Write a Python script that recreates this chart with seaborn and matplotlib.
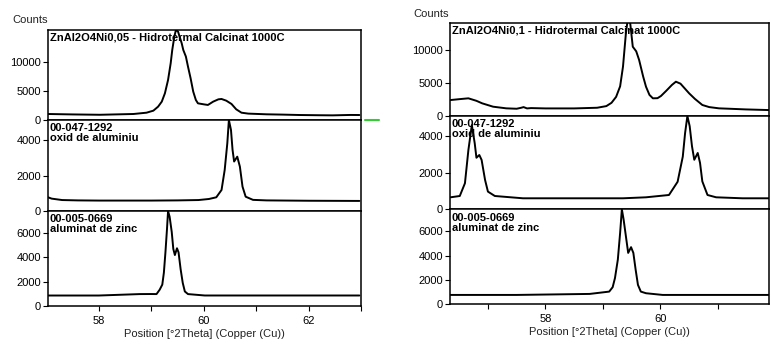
import numpy as np
import pandas as pd
import matplotlib
matplotlib.use("Agg")
import matplotlib.pyplot as plt
import seaborn as sns
from matplotlib.ticker import MultipleLocator, FixedLocator

sns.set_theme(style="ticks")
plt.rcParams['font.family'] = ['Liberation Sans', 'DejaVu Sans']

# ---------------- data ----------------
# Left panel: ZnAl2O4Ni0,05
left_top_x = [57.03, 57.5, 58.02, 58.4, 58.66, 58.91, 59.04, 59.13, 59.2, 59.26, 59.32, 59.37,
              59.4, 59.44, 59.47, 59.51, 59.54, 59.58, 59.61, 59.66, 59.7, 59.75, 59.8, 59.85,
              59.89, 60.0, 60.08, 60.18, 60.28, 60.34, 60.43, 60.53, 60.62, 60.72, 60.85,
              61.2, 61.5, 61.83, 62.2, 62.46, 62.8, 62.97]
left_top_y = [1034, 960, 900, 980, 1034, 1260, 1610, 2300, 3160, 4600, 6900, 9770,
              12070, 14370, 15500, 15230, 14370, 13220, 12070, 10920, 9200, 7180, 4890, 3450,
              2870, 2700, 2590, 3160, 3560, 3620, 3330, 2760, 1840, 1260, 1100,
              980, 930, 860, 820, 800, 870, 860]

left_mid_x = [57.03, 57.1, 57.3, 57.6, 58.0, 58.5, 59.0, 59.5, 59.9, 60.1, 60.24, 60.34,
              60.4, 60.45, 60.48, 60.52, 60.55, 60.58, 60.64, 60.69, 60.74, 60.8,
              60.94, 61.2, 62.0, 62.97]
left_mid_y = [776, 700, 620, 600, 590, 590, 590, 600, 620, 680, 776, 1190,
              2320, 3830, 5150, 4590, 3460, 2800, 3075, 2510, 1380, 810,
              630, 600, 580, 570]

left_bot_x = [57.03, 58.0, 58.78, 59.0, 59.1, 59.16, 59.21, 59.24, 59.27, 59.3, 59.32, 59.35,
              59.39, 59.42, 59.45, 59.49, 59.52, 59.56, 59.6, 59.64, 59.7, 60.02, 61.0, 62.97]
left_bot_y = [858, 858, 975, 980, 975, 1333, 1750, 2720, 4400, 6330, 7775, 7300,
              6060, 4670, 4170, 4725, 4390, 3000, 1890, 1190, 975, 860, 860, 860]

# Right panel: ZnAl2O4Ni0,1
right_top_x = [56.35, 56.5, 56.66, 56.8, 56.9, 57.09, 57.32, 57.5, 57.58, 57.62, 57.68, 57.75,
               58.0, 58.5, 58.9, 59.06, 59.15, 59.23, 59.3, 59.35, 59.4, 59.43, 59.47, 59.52,
               59.58, 59.63, 59.7, 59.75, 59.81, 59.87, 59.95, 60.01, 60.1, 60.2, 60.27,
               60.35, 60.5, 60.6, 60.73, 60.85, 61.02, 61.2, 61.48, 61.89]
right_top_y = [2420, 2550, 2680, 2300, 1920, 1410, 1160, 1100, 1250, 1350, 1150, 1200,
               1150, 1150, 1250, 1500, 2000, 2900, 4500, 7500, 12500, 14500, 14500, 10500,
               9800, 8500, 6000, 4440, 3200, 2680, 2700, 3030, 3800, 4700, 5200,
               4900, 3440, 2600, 1670, 1350, 1160, 1100, 1000, 900]

right_mid_x = [56.35, 56.51, 56.6, 56.66, 56.72, 56.77, 56.8, 56.85, 56.89, 56.95, 57.0,
               57.12, 57.61, 59.35, 59.75, 60.15, 60.3, 60.39, 60.43, 60.47, 60.51, 60.55,
               60.59, 60.65, 60.69, 60.73, 60.82, 60.97, 61.43, 61.89]
right_mid_y = [654, 725, 1420, 3230, 4590, 3600, 2810, 2960, 2690, 1600, 964,
               725, 600, 600, 654, 780, 1500, 2870, 4150, 5085, 4530, 3440,
               2700, 3070, 2530, 1520, 780, 654, 600, 600]

right_bot_x = [56.35, 57.5, 58.77, 59.11, 59.17, 59.21, 59.26, 59.3, 59.33, 59.36, 59.4, 59.44,
               59.49, 59.53, 59.57, 59.61, 59.66, 59.75, 60.04, 61.0, 61.89]
right_bot_y = [750, 750, 833, 1025, 1390, 2140, 3670, 5890, 7830, 7000, 5610, 4225,
               4700, 4225, 2830, 1580, 1025, 890, 750, 750, 750]

left_labels = ["ZnAl2O4Ni0,05 - Hidrotermal Calcinat 1000C",
               "00-047-1292\noxid de aluminiu",
               "00-005-0669\naluminat de zinc"]
right_labels = ["ZnAl2O4Ni0,1 - Hidrotermal Calcinat 1000C",
                "00-047-1292\noxid de aluminiu",
                "00-005-0669\naluminat de zinc"]

yticks_sets = [[0, 5000, 10000], [0, 2000, 4000], [0, 2000, 4000, 6000]]
xtick_labels_major = [58, 60, 62]
xlabel = "Position [°2Theta] (Copper (Cu))"

# ---------------- figure ----------------
W, H = 771, 347
fig = plt.figure(figsize=(W / 100, H / 100), dpi=100)
fig.patch.set_facecolor("white")

panels = [
    dict(box=(48, 361, 30, 306), ratios=[90, 91, 95], xlim=(57.03, 63.0),
         ylims=[15500, 5150, 7775],
         data=[(left_top_x, left_top_y), (left_mid_x, left_mid_y), (left_bot_x, left_bot_y)],
         labels=left_labels, counts_xy=(12, 20), green=True),
    dict(box=(450, 769, 22.7, 304), ratios=[93.3, 93.3, 94.7], xlim=(56.34, 61.89),
         ylims=[14140, 5085, 7830],
         data=[(right_top_x, right_top_y), (right_mid_x, right_mid_y), (right_bot_x, right_bot_y)],
         labels=right_labels, counts_xy=(413, 14), green=False),
]

FS = 8
label_tops = [0.975, 0.965, 0.965]
for p in panels:
    l, r, t, b = p["box"]
    gs = fig.add_gridspec(3, 1, left=l / W, right=r / W, top=1 - t / H, bottom=1 - b / H,
                          height_ratios=p["ratios"], hspace=0)
    axes = [fig.add_subplot(gs[i, 0]) for i in range(3)]
    for i, ax in enumerate(axes):
        xs, ys = p["data"][i]
        df = pd.DataFrame({"x": xs, "y": ys})
        sns.lineplot(data=df, x="x", y="y", ax=ax, color="black", linewidth=1.4,
                     estimator=None)
        ax.set_xlim(*p["xlim"])
        ax.set_ylim(0, p["ylims"][i])
        ax.set_facecolor("white")
        ax.set_xlabel("")
        ax.set_ylabel("")
        ax.yaxis.set_major_locator(FixedLocator(yticks_sets[i]))
        ax.set_yticklabels([str(v) for v in yticks_sets[i]], fontsize=FS)
        ax.tick_params(axis="y", length=3.5, width=0.8, pad=1.5, colors="black")
        for s in ax.spines.values():
            s.set_color("black")
            s.set_linewidth(1.1)
        ax.text(0.006, label_tops[i], p["labels"][i], transform=ax.transAxes, ha="left",
                va="top", fontsize=FS, fontweight="bold", linespacing=1.0, color="black")
        if i < 2:
            ax.tick_params(axis="x", bottom=False, labelbottom=False)
        else:
            ax.xaxis.set_major_locator(FixedLocator(xtick_labels_major))
            ax.xaxis.set_minor_locator(MultipleLocator(1))
            ax.set_xticklabels([str(v) for v in xtick_labels_major], fontsize=FS)
            ax.tick_params(axis="x", which="both", length=3.5, width=0.8, pad=4, colors="black")
            ax.set_xlabel(xlabel, fontsize=FS, labelpad=2, color="#222222")
    fig.text(p["counts_xy"][0] / W, 1 - p["counts_xy"][1] / H, "Counts", fontsize=FS,
             ha="left", va="center", color="#222222")
    if p["green"]:
        axes[0].plot([1.012, 1.057], [0, 0], transform=axes[0].transAxes, clip_on=False,
                     color="#33cc33", linewidth=1.5)

fig.savefig("out.png", dpi=100, facecolor="white")
